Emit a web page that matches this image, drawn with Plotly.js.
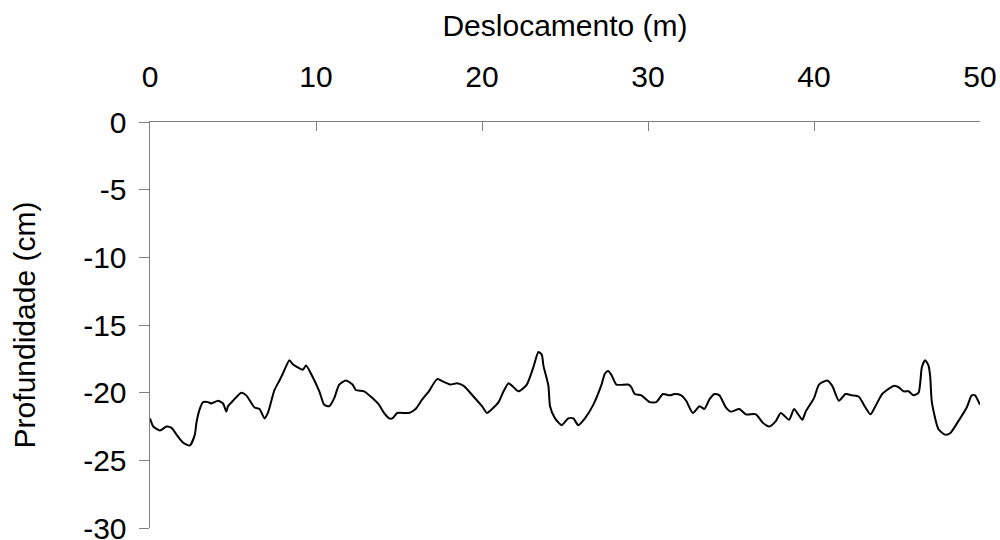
<!DOCTYPE html>
<html>
<head>
<meta charset="utf-8">
<script src="https://cdn.plot.ly/plotly-3.0.1.min.js"></script>
<style>html,body{margin:0;padding:0;background:#fff;}#chart{width:1000px;height:540px;}</style>
</head>
<body>
<div id="chart"></div>
<script>
const deslocamento = [0,0.2,0.6,1.0,1.3,1.6,2.0,2.4,2.7,2.8,3.0,3.2,3.5,3.7,4.1,4.4,4.6,4.7,5.0,5.5,5.8,6.3,6.6,6.9,7.1,7.5,7.8,8.0,8.4,8.6,9.2,9.4,9.7,10.2,10.5,10.8,11.1,11.4,11.8,12.2,12.4,12.9,13.4,13.8,14.1,14.4,14.6,14.9,15.6,16.0,16.4,16.8,17.3,17.7,18.1,18.5,18.9,19.5,20.0,20.3,20.7,21.0,21.3,21.6,21.9,22.2,22.7,23.1,23.4,23.6,23.7,24.0,24.1,24.4,24.8,25.2,25.5,25.8,26.2,26.7,27.2,27.4,27.6,27.8,28.1,28.8,29.0,29.2,29.6,30.1,30.5,30.9,31.3,31.6,32.0,32.3,32.7,33.1,33.4,33.7,34.0,34.3,34.7,35.0,35.5,35.9,36.5,36.9,37.3,37.7,38.0,38.5,38.8,39.1,39.3,39.5,40.0,40.3,40.8,41.1,41.5,41.9,42.3,42.7,43.1,43.4,43.7,44.1,44.4,44.8,45.1,45.4,45.7,46.0,46.3,46.5,46.7,46.9,47.0,47.1,47.5,47.9,48.2,48.7,49.2,49.5,49.7,50.0];
const profundidade = [-21.9,-22.5,-22.8,-22.5,-22.6,-23.1,-23.7,-23.9,-23.1,-22.2,-21.2,-20.7,-20.7,-20.8,-20.6,-20.8,-21.4,-21.0,-20.6,-20.0,-20.2,-21.1,-21.2,-21.9,-21.5,-19.8,-19.1,-18.6,-17.6,-17.9,-18.3,-18.0,-18.6,-19.9,-20.9,-21.0,-20.4,-19.4,-19.1,-19.4,-19.8,-19.9,-20.4,-20.9,-21.5,-21.9,-21.9,-21.5,-21.5,-21.2,-20.5,-19.9,-19.0,-19.2,-19.4,-19.3,-19.5,-20.3,-21.0,-21.5,-21.1,-20.7,-19.9,-19.3,-19.6,-19.9,-19.4,-18.1,-17.0,-17.2,-18.0,-19.5,-21.0,-21.9,-22.4,-21.9,-21.9,-22.4,-21.9,-20.9,-19.4,-18.6,-18.4,-18.7,-19.4,-19.4,-19.6,-20.1,-20.2,-20.7,-20.7,-20.1,-20.2,-20.1,-20.2,-20.6,-21.5,-21.0,-21.2,-20.5,-20.1,-20.2,-21.1,-21.4,-21.2,-21.6,-21.6,-22.2,-22.5,-22.1,-21.5,-22.0,-21.2,-21.7,-22.0,-21.4,-20.4,-19.4,-19.1,-19.5,-20.6,-20.1,-20.2,-20.3,-21.1,-21.6,-21.0,-20.1,-19.8,-19.5,-19.6,-19.9,-19.9,-20.2,-20.0,-18.1,-17.6,-18.0,-18.8,-20.7,-22.7,-23.1,-23.0,-22.1,-21.1,-20.2,-20.2,-20.9];
const xTicks = [0,10,20,30,40,50];
const yTicks = [0,-5,-10,-15,-20,-25,-30];

const trace = {
  x: deslocamento, y: profundidade, type: 'scatter', mode: 'lines',
  line: {color: '#000', width: 2, shape: 'spline', smoothing: 0.6},
  hoverinfo: 'skip'
};
const font = {family: 'Liberation Sans, Arial, sans-serif', size: 30, color: '#000'};
const layout = {
  width: 1000, height: 540,
  margin: {l: 150, r: 20, t: 122, b: 12},
  paper_bgcolor: '#fff', plot_bgcolor: '#fff',
  showlegend: false,
  font: font,
  xaxis: {
    side: 'top', range: [0, 50], tickvals: xTicks, ticktext: xTicks.map(String),
    ticks: 'inside', ticklen: 9, tickcolor: '#808080', tickwidth: 1,
    showline: true, linecolor: '#808080', linewidth: 1.5,
    showgrid: false, zeroline: false, tickfont: font,
    ticklabelstandoff: 22, ticklabeloverflow: 'allow',
    title: {text: 'Deslocamento (m)', font: font, standoff: 14}
  },
  yaxis: {
    range: [-30, 0], tickvals: yTicks, ticktext: yTicks.map(String),
    ticks: 'outside', ticklen: 10, tickcolor: '#808080', tickwidth: 1,
    showline: true, linecolor: '#808080', linewidth: 1.5,
    showgrid: false, zeroline: false, tickfont: font,
    ticklabelstandoff: 6, ticklabeloverflow: 'allow',
    title: {text: 'Profundidade (cm)', font: font, standoff: 38}
  }
};
Plotly.newPlot('chart', [trace], layout, {displayModeBar: false, staticPlot: true});
</script>
</body>
</html>
